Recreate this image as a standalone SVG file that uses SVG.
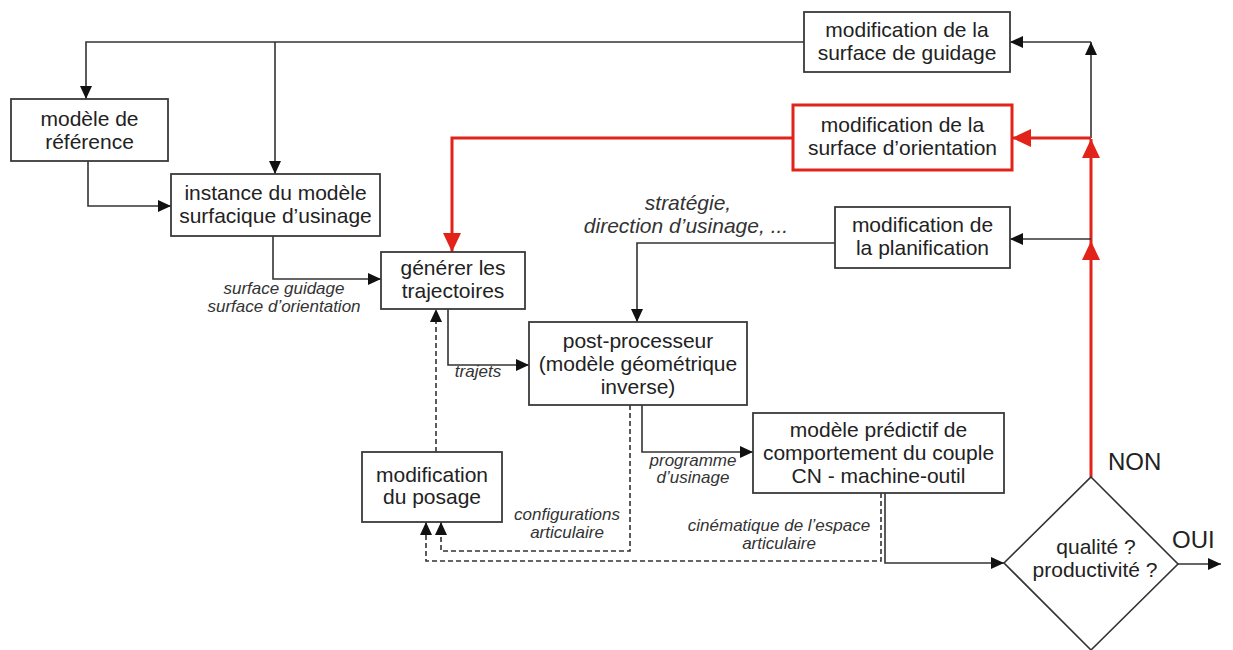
<svg xmlns="http://www.w3.org/2000/svg" width="1233" height="650" viewBox="0 0 1233 650">
<style>
.box{fill:#fff;stroke:#3a3a3a;stroke-width:1.8}
.rbox{fill:#fff;stroke:#e2231a;stroke-width:3}
.t{font-family:"Liberation Sans",Arial,sans-serif;font-size:21px;fill:#222;text-anchor:middle}
.lbl{font-family:"Liberation Sans",Arial,sans-serif;font-size:17px;font-style:italic;fill:#333;text-anchor:middle}
.big{font-family:"Liberation Sans",Arial,sans-serif;font-size:21px;font-style:italic;fill:#333;text-anchor:middle}
.yn{font-family:"Liberation Sans",Arial,sans-serif;font-size:24px;fill:#222}
.c{fill:none;stroke:#333;stroke-width:1.6}
.d{fill:none;stroke:#333;stroke-width:1.6;stroke-dasharray:5,3}
.r{fill:none;stroke:#e2231a;stroke-width:3}
</style>
<defs>
<marker id="a" markerUnits="userSpaceOnUse" markerWidth="13" markerHeight="12" refX="13" refY="6" orient="auto"><path d="M0,0 L13,6 L0,12 z" fill="#111"/></marker>
<marker id="ar" markerUnits="userSpaceOnUse" markerWidth="19" markerHeight="18" refX="19" refY="9" orient="auto"><path d="M0,0 L19,9 L0,18 z" fill="#e2231a"/></marker>
</defs>
<g id="connectors">
<path class="c" d="M804,42 H86 V99" marker-end="url(#a)"/>
<path class="c" d="M275,42 V174" marker-end="url(#a)"/>
<path class="c" d="M88,161 V206 H171" marker-end="url(#a)"/>
<path class="c" d="M273,236 V279 H381" marker-end="url(#a)"/>
<path class="r" d="M793,138 H452 V252" marker-end="url(#ar)"/>
<path class="c" d="M448,309 V365 H529" marker-end="url(#a)"/>
<path class="c" d="M835,243 H637 V322" marker-end="url(#a)"/>
<path class="c" d="M642,405 V452 H753" marker-end="url(#a)"/>
<path class="d" d="M630,405 V551 H441 V522" marker-end="url(#a)"/>
<path class="d" d="M881,493 V561 H426 V522" marker-end="url(#a)"/>
<path class="d" d="M436,452 V309" marker-end="url(#a)"/>
<path class="c" d="M885,493 V563 H1004" marker-end="url(#a)"/>
<path class="c" d="M1178,564 H1221" marker-end="url(#a)"/>
<path class="r" d="M1091,477 V241" marker-end="url(#ar)"/>
<path class="r" d="M1091,241 V139" marker-end="url(#ar)"/>
<path class="c" d="M1091,138 V42" marker-end="url(#a)"/>
<path class="c" d="M1091,42 H1010" marker-end="url(#a)"/>
<path class="r" d="M1091,138 H1012" marker-end="url(#ar)"/>
<path class="c" d="M1091,239 H1010" marker-end="url(#a)"/>
</g>
<g id="n-reference">
<rect class="box" x="11" y="99" width="157" height="62"/>
<text class="t" x="89.5" y="126">modèle de</text>
<text class="t" x="89.5" y="149">référence</text>
</g>
<g id="n-instance">
<rect class="box" x="171" y="174" width="209" height="62"/>
<text class="t" x="275.5" y="200">instance du modèle</text>
<text class="t" x="275.5" y="223">surfacique d’usinage</text>
</g>
<g id="n-guidage">
<rect class="box" x="804" y="12" width="206" height="60"/>
<text class="t" x="907" y="37">modification de la</text>
<text class="t" x="907" y="60">surface de guidage</text>
</g>
<g id="n-orientation">
<rect class="rbox" x="793" y="105" width="219" height="65"/>
<text class="t" x="902.5" y="132">modification de la</text>
<text class="t" x="902.5" y="155">surface d’orientation</text>
</g>
<g id="n-planification">
<rect class="box" x="835" y="207" width="175" height="61"/>
<text class="t" x="922.5" y="232">modification de</text>
<text class="t" x="922.5" y="255">la planification</text>
</g>
<g id="n-generer">
<rect class="box" x="381" y="252" width="144" height="57"/>
<text class="t" x="453" y="275">générer les</text>
<text class="t" x="453" y="298">trajectoires</text>
</g>
<g id="n-post">
<rect class="box" x="529" y="322" width="218" height="83"/>
<text class="t" x="638" y="348">post-processeur</text>
<text class="t" x="638" y="371">(modèle géométrique</text>
<text class="t" x="638" y="394">inverse)</text>
</g>
<g id="n-predictif">
<rect class="box" x="753" y="413" width="251" height="80"/>
<text class="t" x="878.5" y="437">modèle prédictif de</text>
<text class="t" x="878.5" y="460">comportement du couple</text>
<text class="t" x="878.5" y="483">CN - machine-outil</text>
</g>
<g id="n-posage">
<rect class="box" x="362" y="452" width="140" height="70"/>
<text class="t" x="432" y="482">modification</text>
<text class="t" x="432" y="504">du posage</text>
</g>
<g id="n-decision">
<path d="M1091,477 L1178,564 L1091,650 L1004,563 z" fill="#fff" stroke="#333" stroke-width="1.6"/>
<text class="t" x="1096" y="554">qualité ?</text>
<text class="t" x="1095" y="577">productivité ?</text>
</g>
<g id="labels">
<text class="lbl" x="284" y="294">surface guidage</text>
<text class="lbl" x="284" y="312">surface d’orientation</text>
<text class="lbl" x="478" y="377">trajets</text>
<text class="lbl" x="693" y="466">programme</text>
<text class="lbl" x="693" y="483">d’usinage</text>
<text class="lbl" x="567" y="520">configurations</text>
<text class="lbl" x="567" y="538">articulaire</text>
<text class="lbl" x="779" y="531">cinématique de l’espace</text>
<text class="lbl" x="779" y="549">articulaire</text>
<text class="big" x="688" y="210">stratégie,</text>
<text class="big" x="686" y="233">direction d’usinage, ...</text>
<text class="yn" x="1108" y="470">NON</text>
<text class="yn" x="1172" y="548">OUI</text>
</g>
</svg>
